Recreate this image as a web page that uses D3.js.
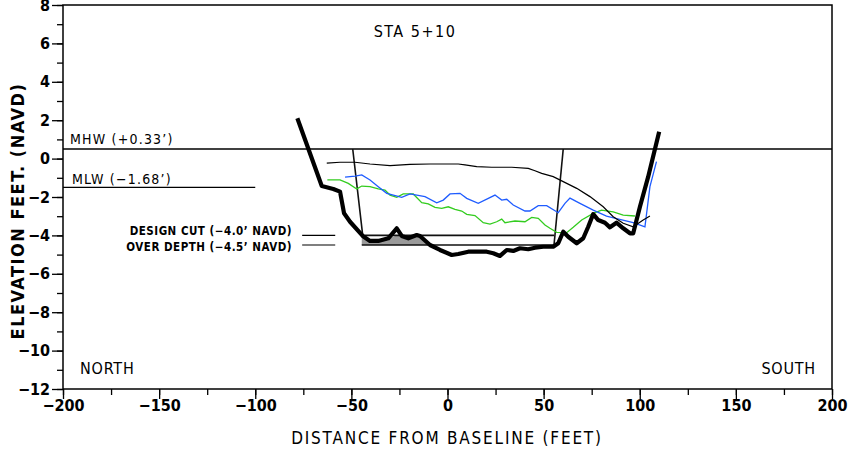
<!DOCTYPE html>
<html>
<head>
<meta charset="utf-8">
<script src="https://cdn.jsdelivr.net/npm/d3@7"></script>
<style>
  body { margin: 0; background: #fff; }
  svg text { font-family: "DejaVu Sans Condensed", "Liberation Sans Narrow", sans-serif; fill: #000; }
</style>
</head>
<body>
<svg id="chart" width="850" height="456"></svg>
<script>
// survey profiles, [distance ft, elevation ft NAVD]
const existing = [
  [-78.1, 2.10], [-65.4, -1.43], [-59.4, -1.58], [-55.9, -1.72], [-53.8, -2.85], [-50.7, -3.29],
  [-44.1, -4.03], [-40.3, -4.29], [-36.0, -4.29], [-30.8, -4.15], [-26.4, -3.63], [-23.8, -4.03],
  [-20.4, -4.15], [-16.0, -3.98], [-14.3, -4.03], [-9.1, -4.50], [-3.9, -4.76], [2.2, -5.02],
  [5.6, -4.97], [10.8, -4.85], [16.0, -4.85], [20.4, -4.85], [23.8, -4.93], [27.3, -5.07],
  [30.8, -4.76], [34.2, -4.81], [37.7, -4.67], [42.0, -4.72], [45.5, -4.64], [49.8, -4.59],
  [55.0, -4.59], [57.6, -4.41], [60.2, -3.81], [62.8, -4.07], [67.2, -4.41], [70.6, -4.15],
  [73.2, -3.55], [75.8, -2.89], [78.4, -3.20], [81.9, -3.34], [84.5, -3.58], [87.9, -3.34],
  [91.4, -3.63], [94.9, -3.89], [96.6, -3.89], [100.1, -2.51], [104.4, -0.94], [110.1, 1.40]
];
const surveyBlack = [
  [-62.8, -0.24], [-55.9, -0.19], [-48.1, -0.19], [-40.3, -0.28], [-29.9, -0.37], [-19.5, -0.30],
  [-9.1, -0.28], [5.6, -0.28], [9.1, -0.33], [15.2, -0.42], [23.0, -0.45], [33.4, -0.45],
  [42.0, -0.51], [45.5, -0.63], [49.0, -0.77], [55.0, -0.94], [60.2, -1.20], [67.2, -1.55],
  [74.1, -1.98], [81.0, -2.51], [86.2, -3.03], [91.4, -3.37], [96.6, -3.55], [101.8, -3.20],
  [105.3, -2.99]
];
const surveyBlue = [
  [-53.3, -0.97], [-48.1, -0.91], [-44.6, -0.85], [-40.3, -1.11], [-36.0, -1.46], [-31.6, -1.81],
  [-23.8, -2.02], [-19.5, -1.84], [-11.7, -1.98], [-5.6, -2.30], [-2.2, -2.16], [1.3, -1.84],
  [6.5, -1.81], [10.0, -2.07], [16.0, -2.33], [24.7, -1.90], [28.2, -2.16], [30.8, -2.12],
  [34.2, -2.42], [40.3, -2.73], [42.9, -2.73], [47.2, -2.45], [51.6, -2.45], [57.6, -2.82],
  [61.1, -2.33], [63.7, -2.06], [68.9, -2.33], [75.8, -2.68], [82.7, -2.99], [89.6, -3.16],
  [96.6, -3.34], [102.7, -3.55], [105.3, -1.46], [108.7, -0.16]
];
const surveyGreen = [
  [-62.5, -1.11], [-55.9, -1.11], [-51.6, -1.29], [-47.2, -1.58], [-44.6, -1.43], [-40.3, -1.46],
  [-36.0, -1.58], [-32.5, -1.64], [-29.9, -1.90], [-26.4, -2.02], [-23.0, -1.84], [-17.8, -1.84],
  [-13.4, -2.30], [-10.0, -2.36], [-6.5, -2.54], [-3.0, -2.59], [0.4, -2.51], [3.9, -2.64],
  [7.4, -2.73], [10.0, -2.90], [14.3, -2.97], [18.6, -3.34], [22.1, -3.41], [25.6, -3.29],
  [28.2, -3.15], [29.9, -3.34], [35.1, -3.25], [40.3, -3.29], [43.8, -3.06], [47.2, -3.11],
  [50.7, -3.46], [53.3, -3.63], [56.8, -3.84], [62.0, -3.86], [65.4, -3.58], [69.8, -3.20],
  [75.8, -2.85], [80.1, -2.68], [86.2, -2.77], [91.4, -2.94], [97.5, -2.99]
];

// channel template
const templateLeft = [[-49.3, 0.5], [-44.1, -4.0], [55.4, -4.0]];
const templateRight = [[60.2, 0.5], [55.4, -4.5]];
const overDepthLine = [[-44.6, -4.5], [55.4, -4.5]];
const cutLimits = [-44.6, 55.4];
const designCut = -4.0;
const overDepth = -4.5;
const mhw = 0.5;
const mlw = -1.5;
const mlwEnd = -100;
const labelLeaders = [-75.6, -58.4];

const xTicks = d3.range(-200, 201, 50);
const xMinor = d3.range(-200, 201, 25);
const yTicks = d3.range(-12, 9, 2);
const yMinor = d3.range(-12, 9, 1);

const svg = d3.select('#chart');
const margin = { top: 5, right: 18, bottom: 67, left: 63 };
const W = 850, H = 456;

const x = d3.scaleLinear().domain([-200, 200]).range([margin.left, W - margin.right]);
const y = d3.scaleLinear().domain([-12, 8]).range([H - margin.bottom, margin.top]);

const line = d3.line().x(d => x(d[0])).y(d => y(d[1]));

// gray over-depth area above the -4.5 line
const fillPts = existing.filter(d => d[0] >= cutLimits[0] && d[0] <= -5);
const area = d3.area()
  .x(d => x(d[0]))
  .y0(y(overDepth))
  .y1(d => y(Math.min(designCut, Math.max(overDepth, d[1]))));
svg.append('path')
  .datum([[cutLimits[0], -4.0]].concat(fillPts))
  .attr('d', area)
  .attr('fill', '#9a9a9a');

// axes
svg.append('g')
  .attr('transform', `translate(0,${y(-12)})`)
  .call(d3.axisBottom(x).tickValues(xMinor).tickSize(6).tickFormat(''))
  .call(g => g.select('.domain').remove());
svg.append('g')
  .attr('transform', `translate(0,${y(-12)})`)
  .call(d3.axisBottom(x).tickValues(xTicks).tickSize(10).tickPadding(1))
  .call(g => g.select('.domain').remove())
  .call(g => g.selectAll('text').attr('font-size', 16).attr('font-weight', 'bold'));
svg.append('g')
  .attr('transform', `translate(${x(-200)},0)`)
  .call(d3.axisLeft(y).tickValues(yMinor).tickSize(6).tickFormat(''))
  .call(g => g.select('.domain').remove());
svg.append('g')
  .attr('transform', `translate(${x(-200)},0)`)
  .call(d3.axisLeft(y).tickValues(yTicks).tickSize(11).tickPadding(2))
  .call(g => g.select('.domain').remove())
  .call(g => g.selectAll('text').attr('font-size', 16).attr('font-weight', 'bold'));
svg.selectAll('.tick line').attr('stroke', '#000').attr('stroke-width', 1.3);

svg.append('rect')
  .attr('x', x(-200)).attr('y', y(8))
  .attr('width', x(200) - x(-200)).attr('height', y(-12) - y(8))
  .attr('fill', 'none').attr('stroke', '#000').attr('stroke-width', 1.5);

// water levels
svg.append('line')
  .attr('x1', x(-200)).attr('x2', x(200)).attr('y1', y(mhw)).attr('y2', y(mhw))
  .attr('stroke', '#000').attr('stroke-width', 1.3);
svg.append('line')
  .attr('x1', x(-200)).attr('x2', x(mlwEnd)).attr('y1', y(mlw)).attr('y2', y(mlw))
  .attr('stroke', '#000').attr('stroke-width', 1.3);

// label leaders for design cut / over depth
[designCut, overDepth].forEach(v => {
  svg.append('line')
    .attr('x1', x(labelLeaders[0])).attr('x2', x(labelLeaders[1]))
    .attr('y1', y(v)).attr('y2', y(v))
    .attr('stroke', '#000').attr('stroke-width', 1.2);
});

// template
[templateLeft, templateRight, overDepthLine].forEach(t => {
  svg.append('path').datum(t).attr('d', line)
    .attr('fill', 'none').attr('stroke', '#111').attr('stroke-width', 1.6);
});

// surveys
svg.append('path').datum(surveyGreen).attr('d', line)
  .attr('fill', 'none').attr('stroke', '#33cc1f').attr('stroke-width', 1.3);
svg.append('path').datum(surveyBlue).attr('d', line)
  .attr('fill', 'none').attr('stroke', '#1f5cff').attr('stroke-width', 1.3);
svg.append('path').datum(surveyBlack).attr('d', line)
  .attr('fill', 'none').attr('stroke', '#000').attr('stroke-width', 1.2);
svg.append('path').datum(existing).attr('d', line)
  .attr('fill', 'none').attr('stroke', '#000').attr('stroke-width', 4.2)
  .attr('stroke-linejoin', 'round');

// text
svg.append('text').attr('x', 415).attr('y', 37).attr('text-anchor', 'middle')
  .attr('font-size', 16).attr('letter-spacing', 1.5).text('STA  5+10');
svg.append('text').attr('x', 70).attr('y', 144).attr('font-size', 14)
  .attr('letter-spacing', 1.2).text('MHW  (+0.33\u2019)');
svg.append('text').attr('x', 72).attr('y', 184).attr('font-size', 14)
  .attr('letter-spacing', 1.2).text('MLW  (\u22121.68\u2019)');
svg.append('text').attr('x', 292).attr('y', 235).attr('text-anchor', 'end')
  .attr('font-size', 11.5).attr('font-weight', 'bold').attr('letter-spacing', 0.5)
  .text('DESIGN CUT (\u22124.0\u2019 NAVD)');
svg.append('text').attr('x', 292).attr('y', 251).attr('text-anchor', 'end')
  .attr('font-size', 11.5).attr('font-weight', 'bold').attr('letter-spacing', 0.5)
  .text('OVER DEPTH (\u22124.5\u2019 NAVD)');
svg.append('text').attr('x', 80).attr('y', 374).attr('font-size', 16)
  .attr('letter-spacing', 0.8).text('NORTH');
svg.append('text').attr('x', 816).attr('y', 374).attr('text-anchor', 'end')
  .attr('font-size', 16).attr('letter-spacing', 0.8).text('SOUTH');
svg.append('text').attr('x', 447).attr('y', 444).attr('text-anchor', 'middle')
  .attr('font-size', 17).attr('letter-spacing', 1.8).text('DISTANCE FROM BASELINE (FEET)');
svg.append('text').attr('transform', 'translate(24,211) rotate(-90)')
  .attr('text-anchor', 'middle').attr('font-size', 18).attr('font-weight', 'bold')
  .attr('letter-spacing', 1.5).text('ELEVATION FEET. (NAVD)');
</script>
</body>
</html>
